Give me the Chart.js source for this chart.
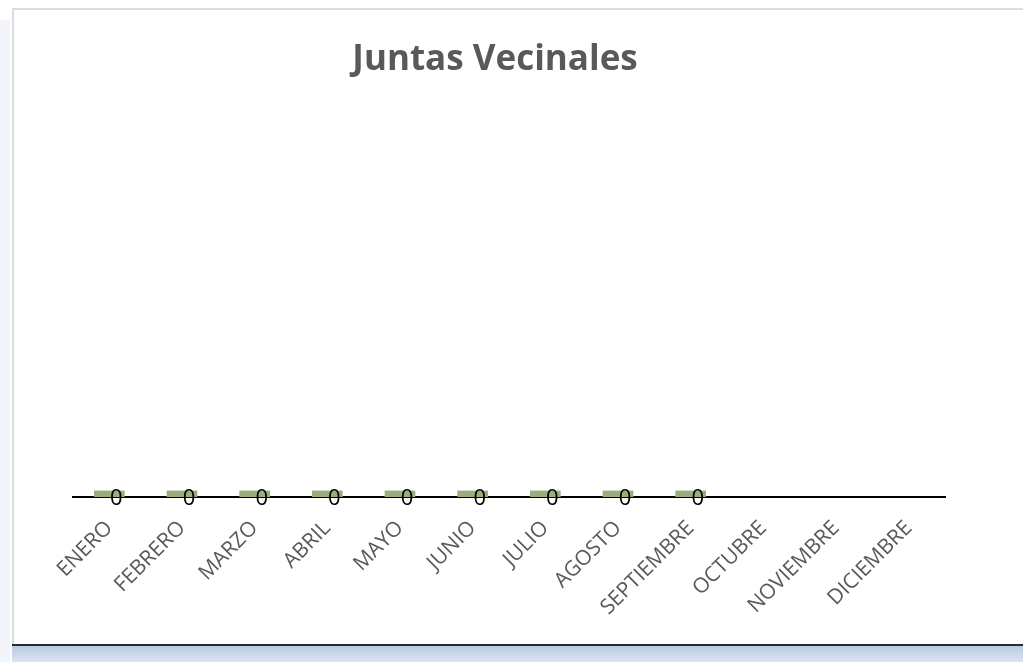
<!DOCTYPE html>
<html>
<head>
<meta charset="utf-8">
<script src="https://cdn.jsdelivr.net/npm/chart.js@4.4.1/dist/chart.umd.min.js"></script>
<style>
  html, body { margin: 0; padding: 0; background: #fff; }
  body { width: 1023px; height: 662px; position: relative; overflow: hidden; }
  #marco { position: absolute; left: 12px; top: 8px; width: 1011px; height: 637px;
           border-top: 2px solid #dcdcdc; border-left: 2px solid #dcdcdc; box-sizing: border-box; }
  #linea { position: absolute; left: 12px; top: 644px; width: 1011px; height: 2px; background: #2b2b2b; }
  #banda { position: absolute; left: 12px; top: 646px; width: 1011px; height: 16px;
           background: linear-gradient(#b7cbe2, #dbe5f1); }
  #orilla { position: absolute; left: 0; top: 20px; width: 10px; height: 642px; background: #f2f5fa; }
  #grafico { position: absolute; left: 0; top: 0; }
</style>
</head>
<body>
<div id="orilla"></div>
<div id="marco"></div>
<div id="linea"></div>
<div id="banda"></div>
<canvas id="grafico" width="1023" height="662"></canvas>
<script>
const meses = ['ENERO', 'FEBRERO', 'MARZO', 'ABRIL', 'MAYO', 'JUNIO', 'JULIO',
               'AGOSTO', 'SEPTIEMBRE', 'OCTUBRE', 'NOVIEMBRE', 'DICIEMBRE'];
const juntas = [0, 0, 0, 0, 0, 0, 0, 0, 0, null, null, null];

// titulo dibujado a mano para poder correrlo un poco a la izquierda
const tituloPlugin = {
  id: 'tituloJuntas',
  afterDraw(chart) {
    const ctx = chart.ctx;
    ctx.save();
    ctx.font = 'bold 35px "Open Sans"';
    ctx.fillStyle = '#595959';
    ctx.textAlign = 'center';
    ctx.textBaseline = 'alphabetic';
    ctx.fillText('Juntas Vecinales', 495, 70);
    ctx.restore();
  }
};

// etiquetas de datos ("0") sobre cada barra
const etiquetasPlugin = {
  id: 'etiquetasDatos',
  afterDatasetsDraw(chart) {
    const ctx = chart.ctx;
    const meta = chart.getDatasetMeta(0);
    ctx.save();
    ctx.font = '22px "Open Sans"';
    ctx.fillStyle = '#000';
    ctx.textAlign = 'center';
    ctx.textBaseline = 'middle';
    meta.data.forEach((barra, i) => {
      const valor = juntas[i];
      if (valor === null) return;
      ctx.fillText(String(valor), barra.x + 7, chart.scales.y.getPixelForValue(valor) + 2);
    });
    ctx.restore();
  }
};

const grafico = document.getElementById('grafico');
const graficoJuntas = new Chart(grafico, {
    type: 'bar',
    data: {
      labels: meses,
      datasets: [{
        label: 'Juntas Vecinales',
        data: juntas,
        backgroundColor: '#9aad7c',
        minBarLength: 6,
        barThickness: 30,
        borderWidth: 0
      }]
    },
    options: {
      responsive: false,
      animation: false,
      layout: { padding: { left: 73, right: 78, top: 120, bottom: 23 } },
      plugins: {
        legend: { display: false },
        title: { display: false },
        tooltip: { enabled: false }
      },
      scales: {
        x: {
          grid: { display: false, drawTicks: false },
          border: { display: true, color: '#000', width: 2 },
          ticks: {
            color: '#595959',
            font: { family: '"Open Sans"', size: 21 },
            minRotation: 45,
            maxRotation: 45,
            padding: 19
          }
        },
        y: {
          display: false,
          min: 0,
          max: 1
        }
      }
    },
    plugins: [tituloPlugin, etiquetasPlugin]
  });
</script>
</body>
</html>
